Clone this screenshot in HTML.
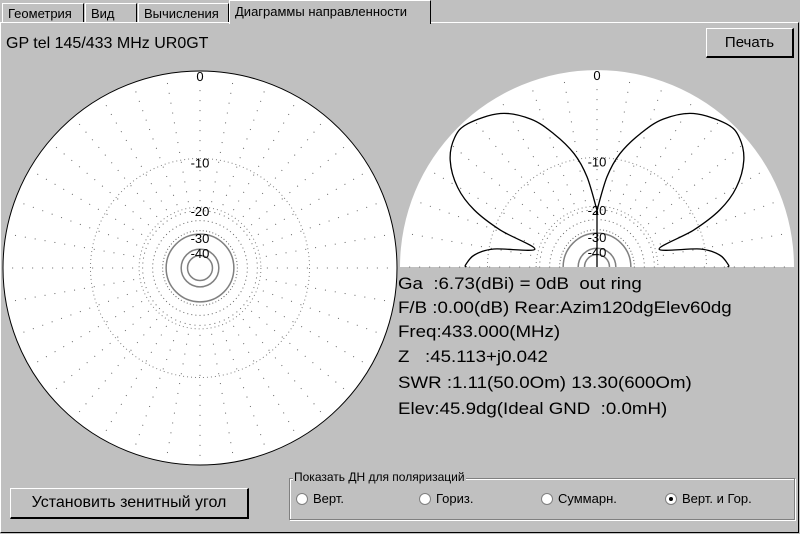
<!DOCTYPE html>
<html><head><meta charset="utf-8">
<style>
body{margin:0;width:800px;height:534px;background:#c0c0c0;font-family:"Liberation Sans","Noto Sans CJK SC",sans-serif;overflow:hidden;position:relative}
.abs{position:absolute}
.tab{position:absolute;top:3px;height:19px;font-size:13px;line-height:19px;padding:0 5px;border-top:1px solid #fff;border-left:1px solid #fff;border-right:1px solid #000;box-sizing:border-box;background:#c0c0c0}
.btn{position:absolute;background:#c0c0c0;border-top:1px solid #fff;border-left:1px solid #fff;border-right:2px solid #000;border-bottom:2px solid #000;box-sizing:border-box;text-align:center}
.info{position:absolute;left:398px;font-size:17px;color:#000;white-space:pre;transform:scaleX(1.1);transform-origin:0 0}
.radio{position:absolute;top:491px;font-size:13px}
.radio span{display:inline-block;width:10px;height:10px;border-radius:50%;background:#fff;border:1px solid #808080;vertical-align:-2px;margin-right:5px;position:relative}
</style></head><body>
<div class="abs" style="left:0;top:22px;width:799px;height:511px;border-top:1px solid #fff;border-left:1px solid #fff;border-right:1px solid #000;border-bottom:1px solid #000;box-sizing:border-box"></div>
<div class="tab" style="left:2px;width:82px">Геометрия</div>
<div class="tab" style="left:85px;width:52px">Вид</div>
<div class="tab" style="left:138px;width:91px">Вычисления</div>
<div class="tab" style="left:229px;top:0;height:24px;width:202px;line-height:22px">Диаграммы направленности</div>
<div class="abs" style="left:6px;top:35px;font-size:16px">GP tel 145/433 MHz UR0GT</div>
<div class="btn" style="left:706px;top:28px;width:88px;height:30px;font-size:15px;line-height:27px">Печать</div>
<svg class="abs" style="left:0;top:0" width="800" height="534">
<g id="left"></g>
<g id="right"></g>
</svg>
<div class="info" style="top:274px">Ga  :6.73(dBi) = 0dB  out ring</div>
<div class="info" style="top:298px">F/B :0.00(dB) Rear:Azim120dgElev60dg</div>
<div class="info" style="top:322px">Freq:433.000(MHz)</div>
<div class="info" style="top:347px">Z   :45.113+j0.042</div>
<div class="info" style="top:373px">SWR :1.11(50.0Om) 13.30(600Om)</div>
<div class="info" style="top:399px">Elev:45.9dg(Ideal GND  :0.0mH)</div>
<div class="btn" style="left:10px;top:488px;width:239px;height:31px;font-size:16px;line-height:28px">Установить зенитный угол</div>
<div class="abs" style="left:289px;top:478px;width:504px;height:40px;border:1px solid #808080;box-shadow:1px 1px 0 #fff, inset 1px 1px 0 #fff"></div>
<div class="abs" style="left:293px;top:470px;font-size:12px;background:#c0c0c0;padding:0 1px">Показать ДН для поляризаций</div>
<div class="radio" style="left:296px"><span></span>Верт.</div>
<div class="radio" style="left:419px"><span></span>Гориз.</div>
<div class="radio" style="left:541px"><span></span>Суммарн.</div>
<div class="radio" style="left:665px"><span><i style="position:absolute;left:3px;top:3px;width:4px;height:4px;background:#000;border-radius:50%"></i></span>Верт. и Гор.</div>
<script>
const ringLabels=["0","-10","-20","-30","-40"];
const ringDb=[0,-10,-20,-30,-40];
const elevAngles=[0,0.9,5.6,9.9,16,20.9,24.9,29.7,36,42.3,47.9,57.8,65.8,72,78.6,83.7,90];
const elevDb=[-7,-6.9,-8,-10.8,-19,-11,-6.4,-3.5,-1.4,-0.4,-0.35,-1.4,-3.3,-5.8,-9.1,-13.2,-21.2];
const NS="http://www.w3.org/2000/svg";
const R=197;
function rOf(db){return R*Math.pow(0.556,-db/10);}
function mk(tag,attrs,parent){const e=document.createElementNS(NS,tag);for(const k in attrs)e.setAttribute(k,attrs[k]);parent.appendChild(e);return e;}
function grid(g,cx,cy,half){
  if(half){const p=mk('path',{d:`M${cx-R},${cy} A${R},${R} 0 0 1 ${cx+R},${cy} Z`,fill:'#fff'},g);}
  else{const c=mk('circle',{cx,cy,r:R,fill:'#fff',stroke:'#000'},g);}
  const a1=half?180:355;
  for(let a=0;a<=a1;a+=5){
    const rad=a*Math.PI/180,ri=rOf(-30)+3;
    const ro=(a%10===0)?R-2:rOf(-20);
    const l=mk('line',{x1:cx+ri*Math.cos(rad),y1:cy-ri*Math.sin(rad),x2:cx+ro*Math.cos(rad),y2:cy-ro*Math.sin(rad),stroke:'#666','stroke-width':1,'stroke-dasharray':'1 9'},g);
    
  }
  ringDb.forEach((d,i)=>{
    if(i===0)return;
    const r=rOf(d);
    const solid=d<=-30;
    const attrs={fill:'none',stroke:'#808080','stroke-width':solid?1.5:1};
    if(!solid)attrs['stroke-dasharray']='1 3';
    let e;
    if(half)e=mk('path',Object.assign({d:`M${cx-r},${cy} A${r},${r} 0 0 1 ${cx+r},${cy}`},attrs),g);
    else e=mk('circle',Object.assign({cx,cy,r},attrs),g);
    
  });
  const rin=rOf(-47);
  let e=half?mk('path',{d:`M${cx-rin},${cy} A${rin},${rin} 0 0 1 ${cx+rin},${cy}`,fill:'none',stroke:'#808080','stroke-width':1.5},g):mk('circle',{cx,cy,r:rin,fill:'none',stroke:'#808080','stroke-width':1.5},g);
  
  ringDb.forEach((d,i)=>{
    const t=mk('text',{x:cx,y:cy-rOf(d)+(i===0?10:9),'font-size':13,'text-anchor':'middle','font-family':'Liberation Sans'},g);
    t.textContent=ringLabels[i];
    
  });
}
const L=document.getElementById('left');
grid(L,200,268,false);
const G=document.getElementById('right');
grid(G,597,267,true);
const pts=[];
elevAngles.forEach((a,i)=>{const r=rOf(elevDb[i]),rad=a*Math.PI/180;pts.push([597+r*Math.cos(rad),267-r*Math.sin(rad)]);});
for(let i=elevAngles.length-1;i>=0;i--){const r=rOf(elevDb[i]),rad=(180-elevAngles[i])*Math.PI/180;pts.push([597+r*Math.cos(rad),267-r*Math.sin(rad)]);}
let d='M'+pts[0][0].toFixed(1)+','+pts[0][1].toFixed(1);
for(let i=0;i<pts.length-1;i++){
  const p0=pts[Math.max(i-1,0)],p1=pts[i],p2=pts[i+1],p3=pts[Math.min(i+2,pts.length-1)];
  const c1=[p1[0]+(p2[0]-p0[0])/6,p1[1]+(p2[1]-p0[1])/6],c2=[p2[0]-(p3[0]-p1[0])/6,p2[1]-(p3[1]-p1[1])/6];
  d+=`C${c1[0].toFixed(1)},${c1[1].toFixed(1)} ${c2[0].toFixed(1)},${c2[1].toFixed(1)} ${p2[0].toFixed(1)},${p2[1].toFixed(1)}`;
}
const p=mk('path',{d,fill:'none',stroke:'#000','stroke-width':1.3,'stroke-linejoin':'round'},G);


const v=mk('line',{x1:597,y1:267,x2:597,y2:267-rOf(elevDb[elevDb.length-1]),stroke:'#000','stroke-width':1.3},G);


</script>
</body></html>
